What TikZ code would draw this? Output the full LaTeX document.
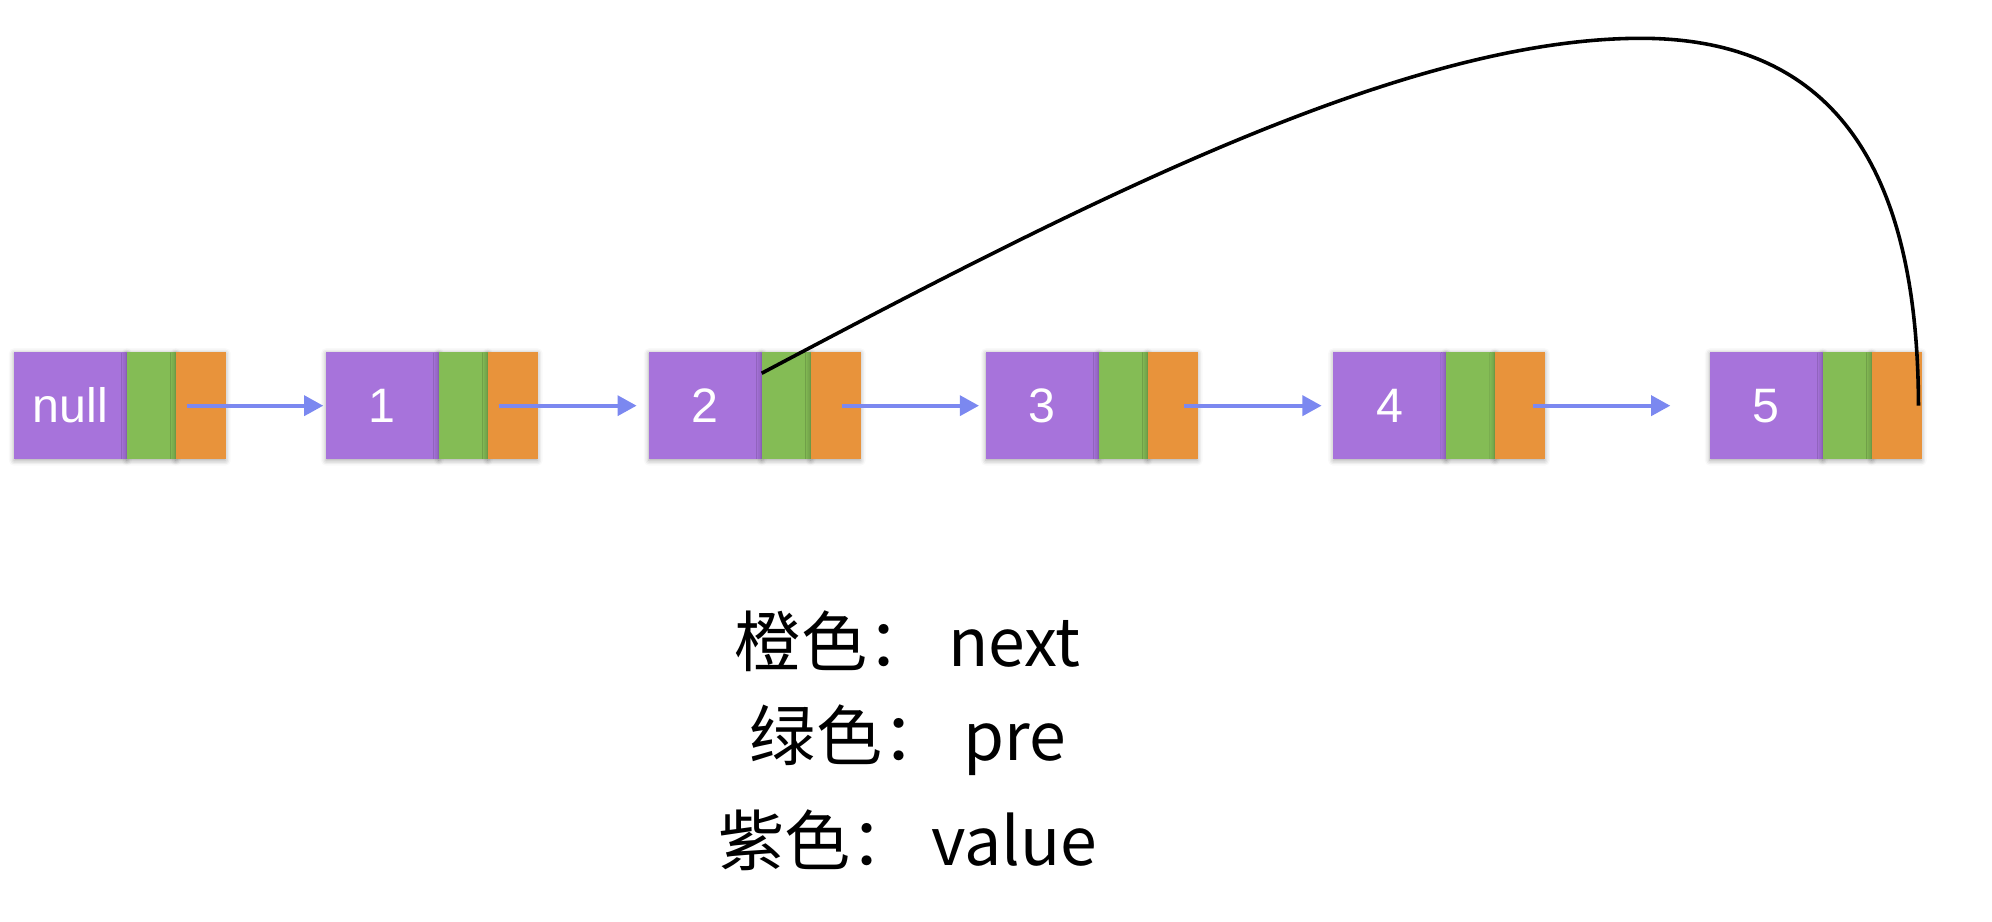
\documentclass[tikz,border=0pt]{standalone}
\usepackage{fontspec}
\setmainfont{Noto Sans CJK SC}
\newfontfamily\labelfont{Liberation Sans}
\usetikzlibrary{shadows.blur,arrows.meta}
\definecolor{valc}{RGB}{167,115,219}
\definecolor{prec}{RGB}{132,188,85}
\definecolor{nextc}{RGB}{232,147,59}
\definecolor{linkc}{RGB}{123,136,240}
\begin{document}
\begin{tikzpicture}[x=1bp,y=-1bp,
  cell/.style={draw=none, minimum height=84bp, inner sep=0pt, outer sep=0pt, anchor=north west,
    blur shadow={shadow xshift=0pt, shadow yshift=-1bp, shadow blur radius=4bp, shadow opacity=35}},
  valcell/.style={cell, fill=valc, minimum width=88.3bp, text=white, font=\labelfont\fontsize{38}{38}\selectfont},
  precell/.style={cell, fill=prec, minimum width=38.3bp},
  nextcell/.style={cell, fill=nextc, minimum width=39.1bp},
  link/.style={draw=linkc, line width=3.2bp, -{Triangle[length=15bp,width=15.5bp]}},
  jump/.style={draw=black, line width=2.8bp},
  legend/.style={font=\fontsize{52}{52}\selectfont, anchor=center}
]
\useasboundingbox (0,0) rectangle (1560,722);
\foreach \i/\x/\t in {0/11.0/null,1/255.3/1,2/508.2/2,3/772.1/3,4/1044.1/4,5/1339.1/5}{
  \node[valcell] (v\i) at (\x,275.7) {\t};
  \node[precell] (p\i) at (v\i.north east) {};
  \node[nextcell] (n\i) at (p\i.north east) {};
}
\foreach \i/\j/\a/\b in {0/1/8.9/2.1,1/2/8.6/9.6,2/3/24.8/5.4,3/4/28.7/9.1,4/5/29.8/31}{
  \draw[link] ([xshift=\a bp]n\i.west) -- ([xshift=-\b bp]v\j.west);
}
\coordinate (peak) at (1285,30);
\draw[jump] ([yshift=-16.6bp]p2.north west) .. controls (850,158) and (1100,30) .. (peak)
  .. controls (1442,30) and (1502,140) .. ([xshift=-2.4bp]n5.east);
\node[legend] (l1) at (711,502) {橙色： next};
\node[legend] (l2) at (711,580) {绿色： pre};
\node[legend] (l3) at (711,658) {紫色： value};
\end{tikzpicture}
\end{document}
